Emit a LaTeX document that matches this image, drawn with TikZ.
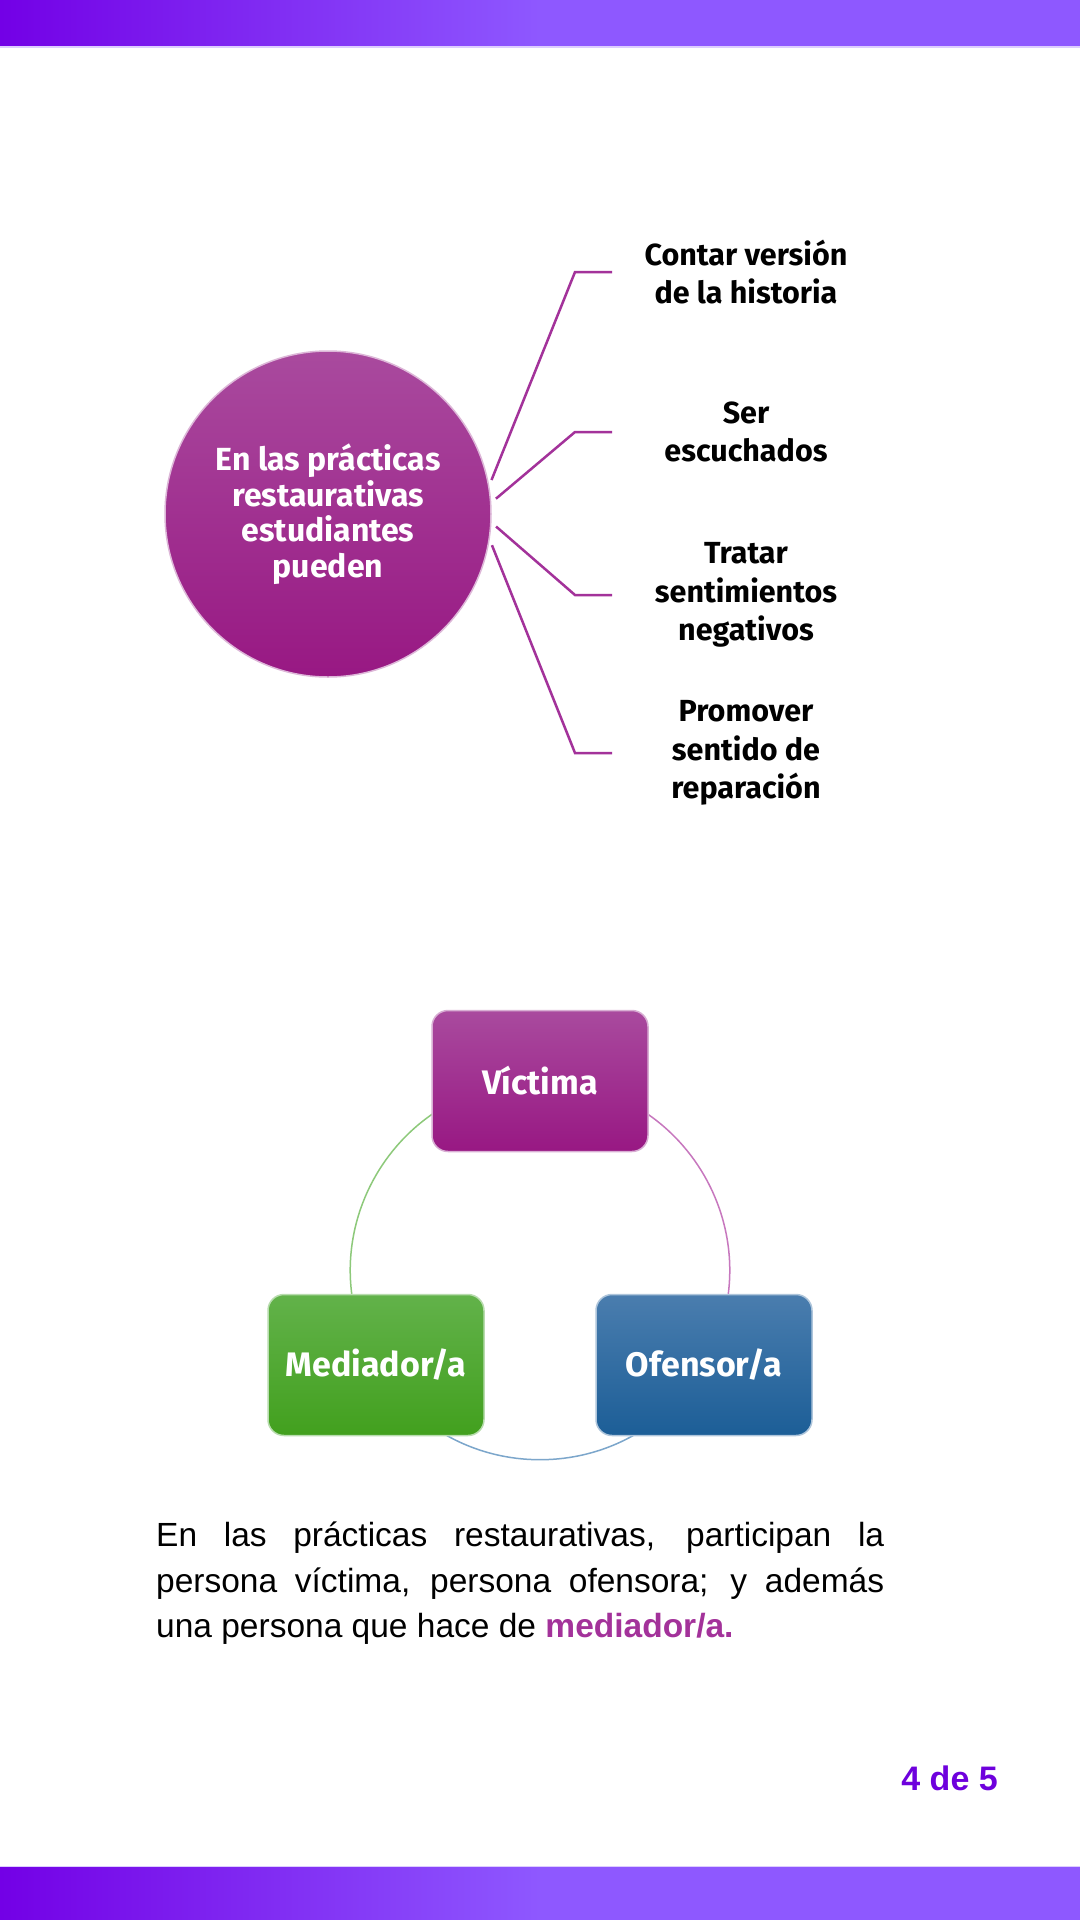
\documentclass[tikz,border=0pt]{standalone}
\usepackage{fontspec}
\setmainfont{Liberation Sans}
\newfontfamily\headfont{Fira Sans}
\usetikzlibrary{positioning,backgrounds,calc}

\definecolor{barL}{HTML}{7300E6}
\definecolor{barR}{HTML}{8E58FF}
\definecolor{plum}{HTML}{A3329A}
\definecolor{plumTop}{HTML}{A94A9E}
\definecolor{plumBot}{HTML}{981883}
\definecolor{leafTop}{HTML}{62B24A}
\definecolor{leafBot}{HTML}{42A01E}
\definecolor{seaTop}{HTML}{4A7DAE}
\definecolor{seaBot}{HTML}{1C5E97}
\definecolor{pageno}{HTML}{6E00DD}
\definecolor{ringG}{HTML}{8DC97A}
\definecolor{ringP}{HTML}{C777BE}
\definecolor{ringB}{HTML}{7CA6CB}

\tikzset{
  hub/.style={circle, minimum size=326pt, inner sep=0pt, top color=plumTop, bottom color=plumBot,
    draw=plumTop!40!white, line width=1.5pt, text=white, align=center,
    font=\headfont\bfseries\fontsize{32}{35.5}\selectfont},
  item/.style={align=center, text=black, font=\headfont\bfseries\fontsize{30.5}{38.5}\selectfont},
  spoke/.style={draw=plum, line width=2.5pt, shorten <=6pt},
  gloss/.style={path picture={
      \draw[white, opacity=.4, line width=3pt, line cap=round]
        ($(path picture bounding box.north west)+(16,7)$) -- ($(path picture bounding box.north east)+(-16,7)$);}},
  role/.style={rounded corners=16pt, minimum width=216pt, minimum height=141pt, text=white,
    top color=#1Top, bottom color=#1Bot, draw=#1Top!45!white, line width=1.5pt, gloss,
    font=\headfont\bfseries\fontsize{34}{40}\selectfont},
  ring/.style={line width=1.5pt, bend left=60, looseness=1.14},
}

\begin{document}
\begin{tikzpicture}[x=1pt,y=1pt,yscale=-1,xscale=1]
        \useasboundingbox (0,0) rectangle (1080,1920);
        \begin{scope}[on background layer]
          \fill[white] (0,0) rectangle (1080,1920);
        \end{scope}

        % top and bottom bars
        \shade[left color=barL, right color=barR] (0,0) rectangle (540,46);
        \fill[barR] (540,0) rectangle (1080,46);
        \fill[barR!30] (0,46) rectangle (1080,47.5);
        \fill[barR!30] (0,1865.5) rectangle (1080,1867);
        \shade[left color=barL, right color=barR] (0,1867) rectangle (540,1920);
        \fill[barR] (540,1867) rectangle (1080,1920);

        % hub and its four items
        \node[hub] (hub) at (328,514) {En las prácticas\\restaurativas\\estudiantes\\pueden};

        \node[item] (contar) at (746,272) {Contar versión\\de la historia};
        \node[item] (ser) at (746,432) {Ser\\escuchados};
        \node[item] (tratar) at (746,595) {Tratar\\sentimientos\\negativos};
        \node[item] (promover) at (746,753) {Promover\\sentido de\\reparación};

        \coordinate (k1) at (575,272); \coordinate (e1) at (612,272);
        \coordinate (k2) at (575,432); \coordinate (e2) at (612,432);
        \coordinate (k3) at (575,595); \coordinate (e3) at (612,595);
        \coordinate (k4) at (575,753); \coordinate (e4) at (612,753);

        \draw[spoke] (hub.10) -- (k1) -- (e1);
        \draw[spoke] (hub.4) -- (k2) -- (e2);
        \draw[spoke] (hub.-3) -- (k3) -- (e3);
        \draw[spoke] (hub.-9) -- (k4) -- (e4);

        % cycle of roles
        \node[role=plum] (victima) at (540,1081) {Víctima};
        \node[role=leaf] (mediador) at (376,1365) {Mediador/a};
        \node[role=sea] (ofensor) at (704,1365) {Ofensor/a};

        \begin{scope}[on background layer]
          \draw[ring, ringG] (victima.center) to (mediador.center);
          \draw[ring, ringB] (mediador.center) to (ofensor.center);
          \draw[ring, ringP] (ofensor.center) to (victima.center);
        \end{scope}

        % text below
        \node[anchor=north west, inner sep=0pt, text width=728pt, align=justify,
              font=\fontsize{33.5}{45.5}\selectfont] (nota) at (156,1522)
              {En las prácticas restaurativas, participan la\linebreak
               persona víctima, persona ofensora; y además\linebreak
               una persona que hace de {\bfseries\color{plum}mediador/a.}};

        \node[anchor=east, inner sep=0pt, text=pageno, font=\bfseries\fontsize{34}{40}\selectfont]
              (pagina) at (998,1778) {4 de 5};
\end{tikzpicture}
\end{document}
